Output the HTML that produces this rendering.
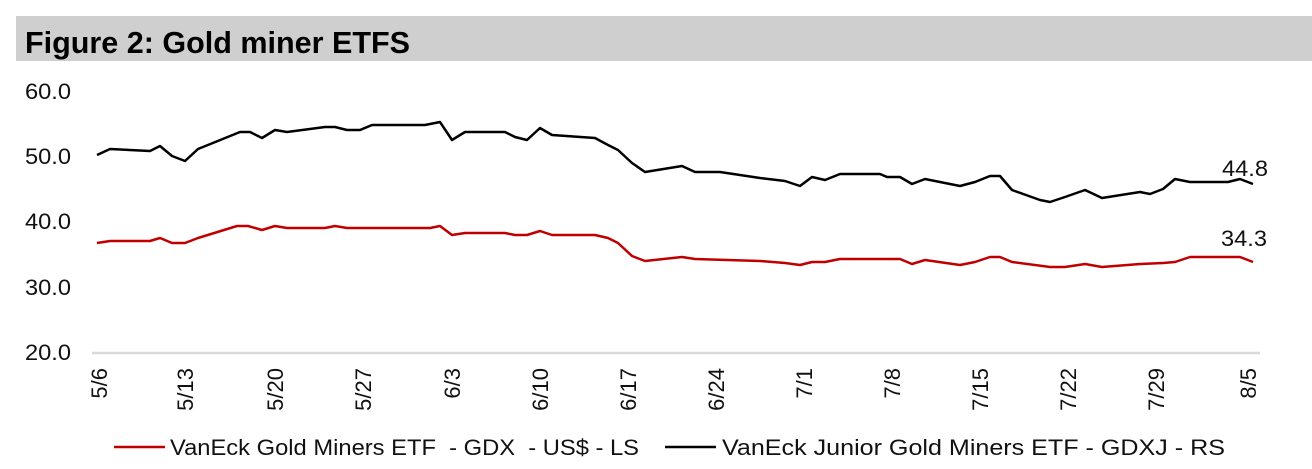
<!DOCTYPE html>
<html><head><meta charset="utf-8"><style>
html,body{margin:0;padding:0;background:#fff;}
svg{display:block;font-family:"Liberation Sans",Arial,sans-serif;}
</style></head><body>
<svg width="1312" height="469" viewBox="0 0 1312 469" xmlns="http://www.w3.org/2000/svg">
<rect x="0" y="0" width="1312" height="469" fill="#fff"/>
<rect x="16" y="16" width="1296" height="45" fill="#d0cfd0"/>
<text x="25" y="53" font-size="31" font-weight="bold" fill="#000" textLength="385" lengthAdjust="spacingAndGlyphs">Figure 2: Gold miner ETFS</text>
<g font-size="22" fill="#111" text-anchor="start">
<text x="25" y="99" textLength="46" lengthAdjust="spacingAndGlyphs">60.0</text>
<text x="25" y="164" textLength="46" lengthAdjust="spacingAndGlyphs">50.0</text>
<text x="25" y="229" textLength="46" lengthAdjust="spacingAndGlyphs">40.0</text>
<text x="25" y="295" textLength="46" lengthAdjust="spacingAndGlyphs">30.0</text>
<text x="25" y="360" textLength="46" lengthAdjust="spacingAndGlyphs">20.0</text>
</g>
<line x1="92" y1="353" x2="1260" y2="353" stroke="#d9d9d9" stroke-width="2.5"/>
<g font-size="22" fill="#111" text-anchor="end">
<text transform="translate(107,368) rotate(-90)">5/6</text>
<text transform="translate(193,368) rotate(-90)">5/13</text>
<text transform="translate(283,368) rotate(-90)">5/20</text>
<text transform="translate(371,368) rotate(-90)">5/27</text>
<text transform="translate(460,368) rotate(-90)">6/3</text>
<text transform="translate(548,368) rotate(-90)">6/10</text>
<text transform="translate(636,368) rotate(-90)">6/17</text>
<text transform="translate(724,368) rotate(-90)">6/24</text>
<text transform="translate(812,368) rotate(-90)">7/1</text>
<text transform="translate(900,368) rotate(-90)">7/8</text>
<text transform="translate(988,368) rotate(-90)">7/15</text>
<text transform="translate(1076,368) rotate(-90)">7/22</text>
<text transform="translate(1164,368) rotate(-90)">7/29</text>
<text transform="translate(1256,368) rotate(-90)">8/5</text>
</g>
<polyline fill="none" stroke="#000" stroke-width="2.5" stroke-linejoin="round" points="97,155 110,149 150,151 160,146 172,156 185,161 198,149 240,132 250,132 262,138 275,130 287,132 325,127 335,127 347,130 360,130 372,125 425,125 440,122 452,140 465,132 505,132 515,137 527,140 540,128 552,135 595,138 608,145 618,150 632,163 645,172 682,166 695,172 720,172 760,178 785,181 800,186 812,177 825,180 840,174 860,174 880,174 887,177 900,177 912,184 925,179 960,186 975,182 990,176 1000,176 1012,190 1040,200 1050,202 1065,197 1085,190 1102,198 1140,192 1150,194 1163,189 1175,179 1190,182 1215,182 1228,182 1240,179 1253,184"/>
<polyline fill="none" stroke="#c00000" stroke-width="2.5" stroke-linejoin="round" points="97,243 110,241 150,241 160,238 172,243 185,243 198,238 237,226 248,226 262,230 275,226 287,228 325,228 335,226 347,228 430,228 440,226 452,235 465,233 505,233 515,235 527,235 540,231 552,235 595,235 608,238 618,243 632,256 645,261 682,257 695,259 760,261 785,263 800,265 812,262 825,262 840,259 880,259 900,259 912,264 925,260 960,265 975,262 990,257 1000,257 1012,262 1050,267 1065,267 1085,264 1102,267 1140,264 1163,263 1175,262 1190,257 1240,257 1253,262"/>
<text x="1222" y="176" font-size="22" fill="#111" textLength="46" lengthAdjust="spacingAndGlyphs">44.8</text>
<text x="1221" y="246" font-size="22" fill="#111" textLength="46" lengthAdjust="spacingAndGlyphs">34.3</text>
<line x1="114" y1="447" x2="165" y2="447" stroke="#c00000" stroke-width="2.5"/>
<text x="170" y="455" font-size="22" fill="#111" textLength="469" lengthAdjust="spacingAndGlyphs" xml:space="preserve">VanEck Gold Miners ETF  - GDX  - US$ - LS</text>
<line x1="665" y1="447" x2="716" y2="447" stroke="#000" stroke-width="2.5"/>
<text x="722" y="455" font-size="22" fill="#111" textLength="503" lengthAdjust="spacingAndGlyphs">VanEck Junior Gold Miners ETF - GDXJ - RS</text>
</svg>
</body></html>
